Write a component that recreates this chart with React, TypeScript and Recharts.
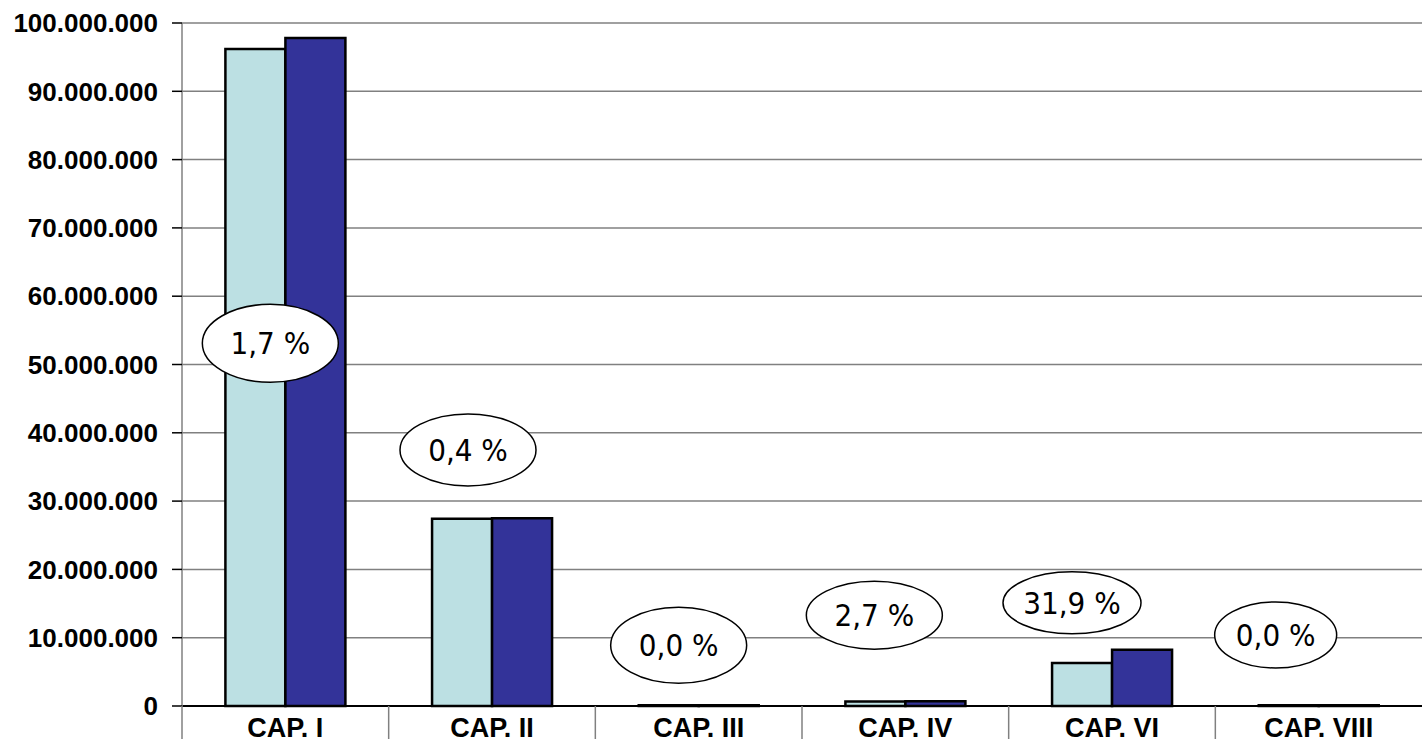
import { BarChart, Bar, XAxis, YAxis, CartesianGrid, ReferenceDot } from "recharts";

const categories = ["CAP. I", "CAP. II", "CAP. III", "CAP. IV", "CAP. VI", "CAP. VIII"];
const seriesA = [96200000, 27400000, 100000, 650000, 6300000, 100000];
const seriesB = [97800000, 27500000, 100000, 680000, 8250000, 100000];
const yTicks = [0, 10000000, 20000000, 30000000, 40000000, 50000000, 60000000, 70000000, 80000000, 90000000, 100000000];

// percentage bubbles: text and the value height where each bubble sits
const pctLabels = ["1,7 %", "0,4 %", "0,0 %", "2,7 %", "31,9 %", "0,0 %"];
const pctLevels = [53100000, 37500000, 8900000, 13300000, 15100000, 10400000];

// layout only: horizontal nudge and radii of each bubble
const bubbleDx = [-15, -24, -20, -31, -40, -43];
const bubbleRx = [68, 68, 68, 68, 69, 61];
const bubbleRy = [39, 36, 38, 34, 31, 33];

const W = 1422;
const H = 739;
const LEFT = 182;
const BAND = (W - LEFT) / categories.length;

const data = categories.map((cat, i) => ({ cat, a: seriesA[i], b: seriesB[i] }));

const fmt = (v: number) => v.toString().replace(/\B(?=(\d{3})+(?!\d))/g, ".");

function XTick(props: any) {
  const { x, y, payload } = props;
  return (
    <g>
      <line x1={x - BAND / 2} y1={y - 8} x2={x - BAND / 2} y2={H} stroke="#808080" strokeWidth={1.5} />
      <text
        x={x}
        y={y + 23}
        textAnchor="middle"
        fontFamily="'Liberation Sans', Arial, sans-serif"
        fontWeight="bold"
        fontSize={27}
        fill="#000"
      >
        {payload.value}
      </text>
    </g>
  );
}

function Bubble(i: number) {
  return (props: any) => {
    const cx = props.cx + bubbleDx[i];
    const cy = props.cy;
    return (
      <g>
        <ellipse cx={cx} cy={cy} rx={bubbleRx[i]} ry={bubbleRy[i]} fill="#fff" stroke="#000" strokeWidth={1.5} />
        <text
          x={cx}
          y={cy + 11}
          textAnchor="middle"
          fontFamily="'DejaVu Sans Condensed', 'DejaVu Sans', sans-serif"
          fontSize={31}
          fill="#000"
        >
          {pctLabels[i]}
        </text>
      </g>
    );
  };
}

export default function App() {
  return (
    <div style={{ position: "absolute", left: 0, top: 0, background: "#fff" }}>
      <BarChart
        width={W}
        height={H}
        data={data}
        margin={{ top: 23, right: 0, bottom: 0, left: 0 }}
        barCategoryGap="21%"
        barGap={0}
      >
        <CartesianGrid vertical={false} stroke="#808080" strokeWidth={1.5} />
        <XAxis
          dataKey="cat"
          height={33}
          axisLine={{ stroke: "#000", strokeWidth: 2 }}
          tickLine={false}
          tick={<XTick />}
          interval={0}
        />
        <YAxis
          width={LEFT}
          domain={[0, 100000000]}
          ticks={yTicks}
          tickFormatter={fmt}
          interval={0}
          axisLine={{ stroke: "#808080", strokeWidth: 1.5 }}
          tickLine={{ stroke: "#000", strokeWidth: 1.5 }}
          tickSize={10}
          tickMargin={14}
          tick={{ fontFamily: "'Liberation Sans', Arial, sans-serif", fontWeight: "bold", fontSize: 26, fill: "#000" }}
        />
        <Bar dataKey="a" fill="#BCE0E3" stroke="#000" strokeWidth={2.5} isAnimationActive={false} />
        <Bar dataKey="b" fill="#333399" stroke="#000" strokeWidth={2.5} isAnimationActive={false} />
        {categories.map((c, i) => (
          <ReferenceDot key={c} x={c} y={pctLevels[i]} r={1} shape={Bubble(i)} ifOverflow="visible" />
        ))}
      </BarChart>
    </div>
  );
}
